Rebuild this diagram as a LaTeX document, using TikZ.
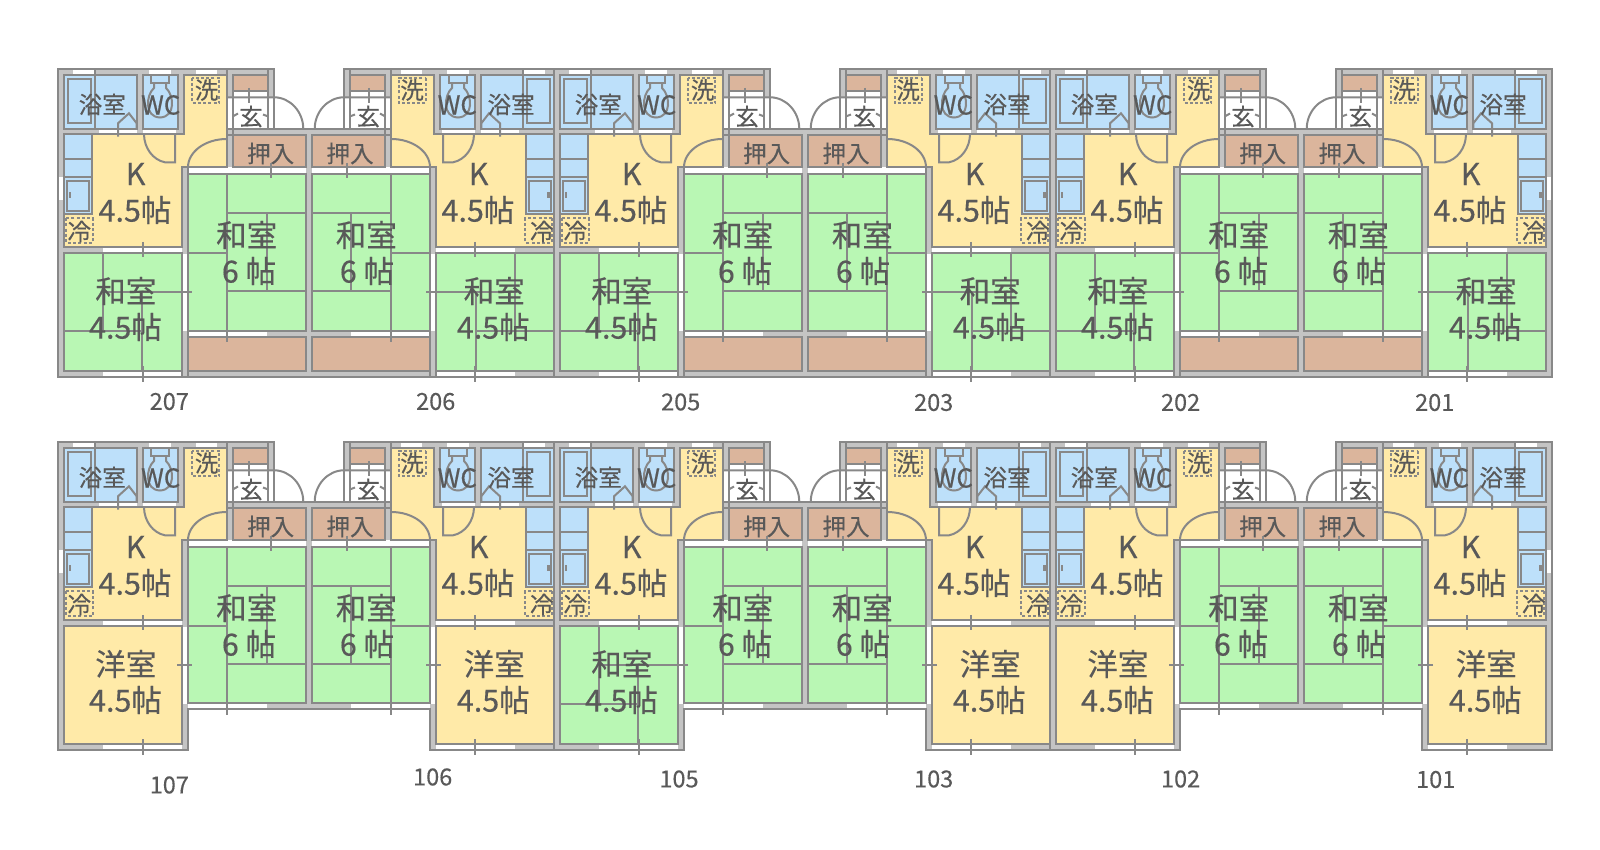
\documentclass[tikz,border=0pt]{standalone}
\usepackage{fontspec}
\setmainfont[FakeBold=0.35]{Noto Sans CJK JP}
\definecolor{wallfill}{HTML}{C4C4C4}
\definecolor{wallline}{HTML}{888888}
\definecolor{bathblue}{HTML}{BDE0FA}
\definecolor{floorcream}{HTML}{FFEAA8}
\definecolor{matgreen}{HTML}{B9F7B4}
\definecolor{closettan}{HTML}{DBB59C}
\definecolor{inkgrey}{HTML}{595959}
\tikzset{
  plan/.style={draw=wallline,line width=2pt,line join=miter},
  gap/.style={fill=white},
  bigtext/.style={text=inkgrey,inner sep=0pt,font=\fontsize{30.5}{30}\selectfont},
  midtext/.style={text=inkgrey,inner sep=0pt,font=\fontsize{23.5}{24}\selectfont},
  wctext/.style={text=inkgrey,inner sep=0pt,font=\fontsize{26}{26}\selectfont},
  numtext/.style={text=inkgrey,inner sep=0pt,font=\fontsize{23.5}{24}\selectfont},
  dashbox/.style={draw=wallline,line width=1.8pt,dash pattern=on 3pt off 2.2pt},
}
% one flat, u runs from the wall by the bath (0) to the wall by the closet (248)
% args: u=0 position, direction, row shift, flat number, kind of floor
% kind 0 = upper floor, 1 = ground floor with mats, 2 = ground floor with western room
\newcommand{\flatplan}[5]{%
  \begin{scope}[shift={(#1,#3)},xscale=#2]
    % wall body
    \ifnum#5=0
      \fill[wallfill] (-3,69) -- (213,69) -- (213,129) -- (248,129) -- (248,376.7) -- (-3,376.7) -- cycle;
    \else
      \fill[wallfill] (-3,69) -- (213,69) -- (213,129) -- (248,129) -- (248,336.3) -- (127,336.3) -- (127,376.7) -- (-3,376.7) -- cycle;
    \fi
    % windows and door openings
    \fill[gap] (12.3,69) rectangle (33,75);
    \fill[gap] (88,69) rectangle (110,75);
    \fill[gap] (135,69) rectangle (156,75);
    \fill[gap] (38,129) rectangle (76,134);
    \fill[gap] (82,129) rectangle (115,134);
    \fill[gap] (165.7,97.3) rectangle (213,129);
    \fill[gap] (127,167.3) rectangle (245,174.3);
    \fill[gap] (42.3,246.7) rectangle (120.7,252.7);
    \fill[gap] (120.7,254) rectangle (126.7,331);
    \fill[gap] (126.7,331) rectangle (205.7,337);
    \fill[gap] (42.3,370.7) rectangle (120.7,376.7);
    % rooms
    \draw[plan,fill=bathblue] (2.7,75) rectangle (76.3,129);
    \draw[plan,fill=bathblue] (81.7,75) rectangle (117.3,129);
    \draw[plan,fill=floorcream] (123.3,75) -- (165.7,75) -- (165.7,167.3) -- (120.7,167.3) -- (120.7,246.7)
      -- (2.7,246.7) -- (2.7,134) -- (123.3,134) -- cycle;
    \draw[plan,fill=bathblue] (2.7,134) rectangle (31.3,214);
    \draw[plan,fill=closettan] (171.7,75) rectangle (207.3,90.7);
    \draw[plan,fill=white] (171.7,90.7) rectangle (207.3,129);
    \draw[plan,fill=closettan] (171.7,135) rectangle (245,167.3);
    \draw[plan,fill=matgreen] (126.7,174.3) rectangle (245,\ifnum#5=0 331\else 330.3\fi);
    \ifnum#5=0
      \draw[plan,fill=closettan] (126.7,337.3) rectangle (245,370.7);
    \fi
    \ifnum#5=2
      \draw[plan,fill=floorcream] (2.7,252.7) rectangle (120.7,370.7);
    \else
      \draw[plan,fill=matgreen] (2.7,252.7) rectangle (120.7,370.7);
    \fi
    % bath, toilet and kitchen fittings
    \draw[plan] (7.3,79.3) rectangle (29.7,123.3);
    \draw[plan] (34,69) -- (34,129);
    \draw[plan] (57,136.7) -- (57,123.3) -- (68,113.3) -- (75.7,123.3) -- (75.7,129);
    \draw[plan] (90,75) rectangle (108,83);
    \draw[plan] (93,83) -- (93,88) .. controls (85,95) and (83,117) .. (99,117.5)
      .. controls (115,117) and (113,95) .. (105,88) -- (105,83);
    \draw[plan] (83,134) .. controls (83,148) and (92,160) .. (104,162.3) -- (114,162.3) -- (114,134);
    \draw[plan] (2.7,159) -- (31.3,159);
    \draw[plan] (2.7,177.3) -- (31.3,177.3);
    \draw[plan] (6.3,180.7) rectangle (28.3,210.7);
    \fill[wallline] (7.5,192) rectangle (10,198);
    \draw[dashbox] (5.3,218.3) rectangle (31.7,242.7);
    \draw[dashbox] (131.3,77.7) rectangle (158.3,103.3);
    % doors
    \draw[plan] (165.7,139) .. controls (144.3,139) and (127,151.7) .. (127,167.3);
    \draw[plan] (165.7,97.3) -- (213,97.3) .. controls (229.2,97.3) and (242.3,111.8) .. (242.3,129);
    \draw[plan] (165.7,129) -- (213,129);
    \draw[plan] (188,88) -- (188,103);
    \draw[plan] (171.7,116.5) -- (177,113.5);
    \draw[plan] (207.3,116.5) -- (202,114.5);
    % mats and marks
    \draw[plan] (165.7,174.3) -- (165.7,341.7);
    \draw[plan] (165.7,212.7) -- (245,212.7);
    \draw[plan] (165.7,291) -- (245,291);
    \draw[plan] (205.7,212.7) -- (205.7,291);
    \draw[plan] (127,252.7) -- (165.7,252.7);
    \draw[plan] (209.7,162.7) -- (209.7,178.3);
    \draw[plan] (81.7,242) -- (81.7,257);
    \draw[plan] (81.7,366) -- (81.7,381.7);
    \ifnum#5=2
      \draw[plan] (116,291.7) -- (130.7,291.7);
    \else
      \draw[plan] (42.3,252.7) -- (42.3,330.7);
      \draw[plan] (2.7,330.7) -- (81.3,330.7);
      \draw[plan] (42.3,291.7) -- (130.7,291.7);
      \draw[plan] (81.3,291.7) -- (81.3,370.7);
    \fi
    % wall outline
    \ifnum#5=0
      \draw[plan] (248,129) -- (213,129) -- (213,69) -- (-3,69) -- (-3,376.7) -- (248,376.7);
      \draw[plan] (126.7,331) -- (245,331);
      \draw[plan] (120.7,252.7) -- (120.7,376.7);
      \draw[plan] (126.7,167.3) -- (126.7,376.7);
    \else
      \draw[plan] (248,129) -- (213,129) -- (213,69) -- (-3,69) -- (-3,376.7) -- (127,376.7) -- (127,336.3) -- (248,336.3);
      \draw[plan] (120.7,252.7) -- (120.7,336.3);
      \draw[plan] (126.7,167.3) -- (126.7,330.3);
    \fi
    \draw[plan] (120.7,167.3) -- (126.7,167.3);
    \draw[plan] (207.3,69) -- (207.3,129);
    \draw[plan] (165.7,69) -- (165.7,167.3);
    \draw[plan] (171.7,75) -- (171.7,135);
    \draw[plan] (165.7,135) -- (171.7,135);
    % room names, their places differ a little between the two directions
    \node[midtext] (bath#4) at ({43.6-2.3*#2},104.5) {浴室};
    \node[wctext] (wc#4) at (99.7,105) {WC};
    \node[midtext] (wash#4) at ({145.3+0.3*#2},90) {洗};
    \node[midtext] (hall#4) at ({189.4+0.6*#2},116.5) {玄};
    \node[midtext] (oshi#4) at ({208.3+1.35*#2},153.5) {押入};
    \node[midtext] (ice#4) at ({16.8+1.5*#2},231.5) {冷};
    \node[bigtext] (k#4) at ({76.5-1.85*#2},174) {K};
    \node[bigtext] (ksize#4) at ({76.5-2.5*#2},210) {4.5帖};
    \node[bigtext] (six#4) at ({188.2-2.5*#2},235) {和室};
    \node[bigtext] (sixsize#4) at ({189-1*#2},271) {6 帖};
    \node[bigtext] (low#4) at ({63.8+1*#2},291) {\ifnum#5=2 洋室\else 和室\fi};
    \node[bigtext] (lowsize#4) at ({64.1+0.4*#2},327) {4.5帖};
  \end{scope}%
}
\begin{document}
\begin{tikzpicture}[x=1pt,y=-1pt]
    \useasboundingbox (0,0) rectangle (1600,850);
    % upper floor
    \foreach \ux/\dirn/\num in {61/1/207,557/-1/206,557/1/205,1053/-1/203,1053/1/202,1549/-1/201}
        \flatplan{\ux}{\dirn}{0}{\num}{0};
    % ground floor
    \foreach \ux/\dirn/\num/\kind in {61/1/107/2,557/-1/106/2,557/1/105/1,1053/-1/103/2,1053/1/102/2,1549/-1/101/2}
        \flatplan{\ux}{\dirn}{373}{\num}{\kind};
    % end windows
    \foreach \wx in {59,1547}
        \foreach \wy in {177.3,550.3}
            \fill[gap] (\wx,\wy) rectangle (\wx+4,\wy+23);
    % flat numbers
    \foreach \lx/\ly/\num in {169.3/401.5/207,435.7/401.5/206,680.7/402/205,933.7/402.5/203,1180.6/402.5/202,1434.7/402.5/201,
        169.3/785/107,432.7/777/106,679/779/105,933.7/779/103,1180.6/779/102,1435.7/779.5/101}
        \node[numtext] (no\num) at (\lx,\ly) {\num};
\end{tikzpicture}
\end{document}
